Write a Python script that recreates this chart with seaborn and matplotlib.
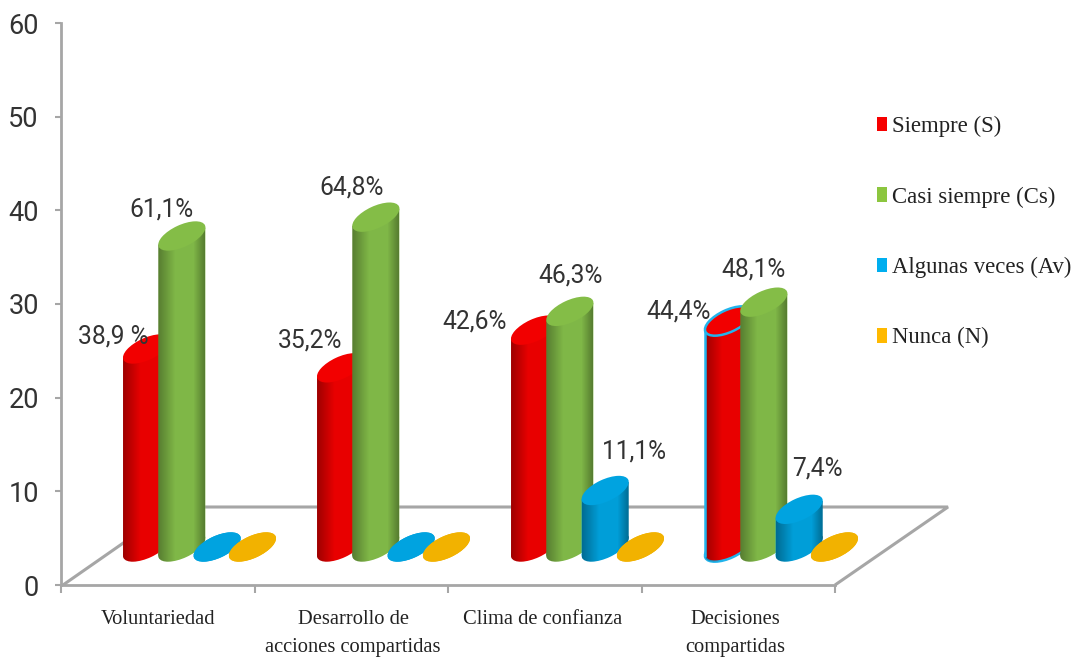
import numpy as np
import pandas as pd
import matplotlib
matplotlib.use("Agg")
import matplotlib.pyplot as plt
import seaborn as sns
from matplotlib.patches import Ellipse, Polygon, Patch
from matplotlib.lines import Line2D
from matplotlib.path import Path
from matplotlib.transforms import Affine2D, IdentityTransform

categories = ["Voluntariedad", "Desarrollo de\nacciones compartidas", "Clima de confianza", "Decisiones\ncompartidas"]
series_names = ["Siempre (S)", "Casi siempre (Cs)", "Algunas veces (Av)", "Nunca (N)"]
siempre = [38.9, 35.2, 42.6, 44.4]
casi_siempre = [61.1, 64.8, 46.3, 48.1]
algunas_veces = [0, 0, 11.1, 7.4]
nunca = [0, 0, 0, 0]
y_ticks = [0, 10, 20, 30, 40, 50, 60]

series_values = [siempre, casi_siempre, algunas_veces, nunca]
body_colors = ["#e80000", "#7fb747", "#009ed8", "#f0b000"]
top_colors = ["#f20000", "#84bd47", "#00a3e0", "#f2b200"]
legend_colors = ["#f60000", "#8cc63f", "#00aeef", "#ffb900"]
NARROW = ["Liberation Sans Narrow", "Roboto", "DejaVu Sans"]

W, H = 1076, 658
sns.set_theme(style="white")
plt.rcParams["font.family"] = ["Roboto", "DejaVu Sans"]
fig = plt.figure(figsize=(W / 100, H / 100), dpi=100)

AX_L, AX_R, AX_T, AX_B = 61, 835, 23, 585
ax = fig.add_axes([AX_L / W, 1 - AX_B / H, (AX_R - AX_L) / W, (AX_B - AX_T) / H])

PX_PER_UNIT = (AX_B - AX_T) / 60
PX_PER_PCT = 5.09
PX_PER_CAT = 194
BASE_UNITS = (AX_B - 547) / PX_PER_UNIT
SCALE = PX_PER_PCT / PX_PER_UNIT

df = pd.DataFrame({
    "categoria": [c for _ in series_names for c in categories],
    "serie": [s for s in series_names for _ in categories],
    "altura": [v * SCALE for vals in series_values for v in vals],
})
sns.barplot(data=df, x="categoria", y="altura", hue="serie", order=categories, hue_order=series_names,
            palette=body_colors, width=0.728, gap=0, bottom=BASE_UNITS, legend=False, ax=ax, linewidth=0,
            saturation=1, zorder=2)

x_left = (AX_L - 199.5) / PX_PER_CAT
x_right = (AX_R - 199.5) / PX_PER_CAT
ax.set_xlim(x_left, x_right)
ax.set_ylim(0, 60)
ax.set_autoscale_on(False)
ax.set_xlabel("")
ax.set_ylabel("")
ax.set_yticks(y_ticks)
ax.set_yticklabels([str(t) for t in y_ticks], fontsize=19.5, color="#333333", family=NARROW)
ax.set_xticks(np.linspace(x_left, x_right, 5))
ax.set_xticklabels([])
label_px = [158, 353, 543, 735]
ax.set_xticks([(p - 199.5) / PX_PER_CAT for p in label_px], minor=True)
ax.set_xticklabels(categories, minor=True, fontsize=14.8, family="Liberation Serif", color="#222222", linespacing=1.62)
ax.tick_params(axis="x", which="major", length=6, color="#a6a6a6", width=1.5, bottom=True)
ax.tick_params(axis="x", which="minor", length=0, pad=18)
ax.tick_params(axis="y", length=4, color="#a6a6a6", width=1.5, left=True, pad=12)
for s in ["top", "right"]:
    ax.spines[s].set_visible(False)
for s in ["left", "bottom"]:
    ax.spines[s].set_color("#a6a6a6")
    ax.spines[s].set_linewidth(2)

# floor of the 3-D chart
floor = [(63, 585), (175, 507), (948, 507), (835, 585)]
ax.add_patch(Polygon([(x / W, 1 - y / H) for x, y in floor], closed=False, fill=False, ec="#a6a6a6", lw=2.2,
                     transform=fig.transFigure, clip_on=False, zorder=1))

# cylinder geometry (pixels)
A, B, ANGLE, BODY_W = 25.5, 11, 25, 47
DY = 8.6
SHEAR = DY / 23.5
profile = np.concatenate([np.linspace(0.32, 0.0, 30), np.zeros(30), np.linspace(0.0, 0.32, 20)])
grad = np.zeros((1, profile.size, 4))
grad[..., 3] = profile

to_disp = ax.transData.transform
for si, cont in enumerate(ax.containers):
    for ci, bar in enumerate(cont.patches):
        z = 2 + si
        xc = bar.get_x() + bar.get_width() / 2
        w = BODY_W / PX_PER_CAT
        bar.set_x(xc - w / 2)
        bar.set_width(w)
        bar.set_zorder(z + 0.1)
        y0 = BASE_UNITS
        y1 = BASE_UNITS + series_values[si][ci] * SCALE
        cx, cy0 = to_disp((xc, y0))
        _, cy1 = to_disp((xc, y1))
        outlined = si == 0 and ci == 3
        edge = "#22b4ec" if outlined else "none"
        lw = 1.8 if outlined else 0
        shear = Affine2D(np.array([[1, 0, 0], [SHEAR, 1, -SHEAR * cx], [0, 0, 1]]))
        bar.set_transform(ax.transData + shear)
        bottom = Ellipse((cx, cy0), 2 * A, 2 * B, angle=ANGLE, transform=IdentityTransform(),
                         fc=body_colors[si], ec=edge, lw=lw, zorder=z, clip_on=False)
        ax.add_patch(bottom)
        top = Ellipse((cx, cy1), 2 * A, 2 * B, angle=ANGLE, transform=IdentityTransform(),
                      fc=top_colors[si], ec=edge, lw=lw, zorder=z + 0.3, clip_on=False)
        ax.add_patch(top)
        if series_values[si][ci] > 0:
            body_path = bar.get_transform().transform_path(bar.get_path())
            base_path = bottom.get_transform().transform_path(bottom.get_path())
            clip = Path.make_compound_path(body_path, base_path)
            im = ax.imshow(grad, extent=(xc - w / 2, xc + w / 2, 0, 60), aspect="auto", zorder=z + 0.2,
                           interpolation="bilinear")
            im.set_clip_path(clip, IdentityTransform())
        if outlined:
            ax.add_line(Line2D([cx - 23.5, cx - 23.5], [cy0 - DY, cy1 - DY], color=edge, lw=lw,
                               transform=IdentityTransform(), zorder=z + 0.25))
ax.set_xlim(x_left, x_right)
ax.set_ylim(0, 60)

# value labels, shifted from the top of each cylinder by hand-read offsets (pixels)
offsets = {
    (0, 0): (-33, 12), (1, 0): (-20, 27), (0, 1): (-30, 27), (1, 1): (-24, 30),
    (0, 2): (-60, 9), (1, 2): (1, 36), (2, 2): (29, 39),
    (0, 3): (-50, 10), (1, 3): (-10, 33), (2, 3): (18, 41),
}
for (si, ci), (dx, dy) in offsets.items():
    v = series_values[si][ci]
    txt = f"{v:.1f}%".replace(".", ",")
    if (si, ci) == (0, 0):
        txt = txt.replace("%", " %")
    xc = ci + (si - 1.5) * 0.728 / 4
    ax.annotate(txt, xy=(xc, BASE_UNITS + v * SCALE), xytext=(dx * 0.72, dy * 0.72), textcoords="offset points",
                ha="center", va="center", fontsize=17.7, family=NARROW, color="#333333", zorder=10,
                annotation_clip=False)

handles = [Patch(fc=c, ec="none") for c in legend_colors]
leg = fig.legend(handles, series_names, loc="upper left", bbox_to_anchor=(877 / W, 1 - 116 / H), frameon=False,
                 prop={"family": "Liberation Serif", "size": 16.4}, labelspacing=2.16, handlelength=0.45,
                 handleheight=0.6, handletextpad=0.22, borderpad=0, borderaxespad=0)
for t in leg.get_texts():
    t.set_color("#222222")

fig.savefig("out.png", dpi=100)
